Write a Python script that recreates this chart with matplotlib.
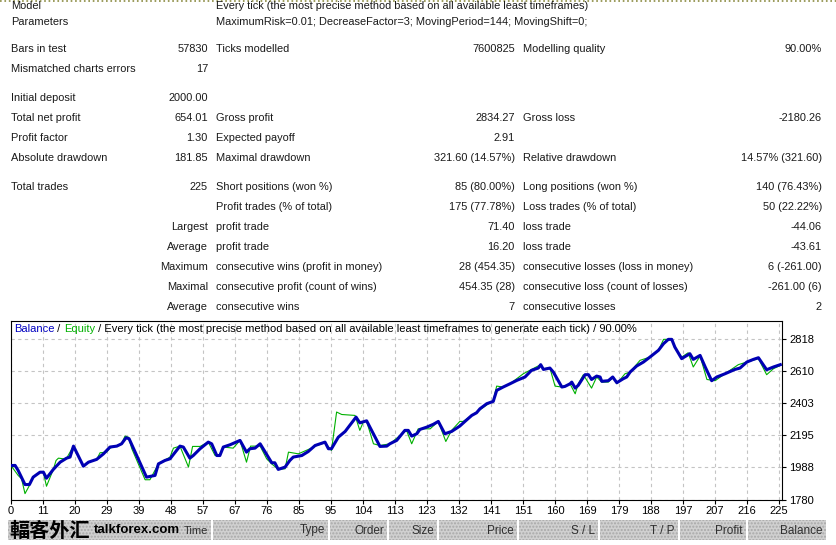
import numpy as np
import matplotlib.pyplot as plt
from matplotlib.offsetbox import HPacker, TextArea, AnchoredOffsetbox
from matplotlib.patches import Rectangle
from matplotlib.lines import Line2D

W, H = 837, 545
plt.rcParams['font.family'] = ['Liberation Sans', 'DejaVu Sans']
plt.rcParams['font.size'] = 7.9

# --- report text ---
model = "Every tick (the most precise method based on all available least timeframes)"
params = "MaximumRisk=0.01; DecreaseFactor=3; MovingPeriod=144; MovingShift=0;"

# (y, label1, value1, label2, value2, label3, value3)
rows = [
    (49, "Bars in test", "57830", "Ticks modelled", "7600825", "Modelling quality", "90.00%"),
    (69, "Mismatched charts errors", "17", "", "", "", ""),
    (98, "Initial deposit", "2000.00", "", "", "", ""),
    (118, "Total net profit", "654.01", "Gross profit", "2834.27", "Gross loss", "-2180.26"),
    (138, "Profit factor", "1.30", "Expected payoff", "2.91", "", ""),
    (158, "Absolute drawdown", "181.85", "Maximal drawdown", "321.60 (14.57%)",
     "Relative drawdown", "14.57% (321.60)"),
    (187, "Total trades", "225", "Short positions (won %)", "85 (80.00%)",
     "Long positions (won %)", "140 (76.43%)"),
    (207, "", "", "Profit trades (% of total)", "175 (77.78%)",
     "Loss trades (% of total)", "50 (22.22%)"),
    (227, "", "Largest", "profit trade", "71.40", "loss trade", "-44.06"),
    (247, "", "Average", "profit trade", "16.20", "loss trade", "-43.61"),
    (267, "", "Maximum", "consecutive wins (profit in money)", "28 (454.35)",
     "consecutive losses (loss in money)", "6 (-261.00)"),
    (287, "", "Maximal", "consecutive profit (count of wins)", "454.35 (28)",
     "consecutive loss (count of losses)", "-261.00 (6)"),
    (307, "", "Average", "consecutive wins", "7", "consecutive losses", "2"),
]

# --- chart data (trade number, account value) ---
bal_t = [0, 1.2, 2.1, 4.1, 5.4, 6.5, 8.5, 9.5, 10.4, 12.4, 14.4, 16.3, 17.3, 18.3,
         21.2, 22.7, 25.1, 27.1, 29.0, 31.0, 32.4, 33.7, 34.6, 39.7, 42.2, 43.2,
         45.1, 46.6, 49.5, 50.5, 52.4, 53.4, 55.4, 57.8, 58.8, 60.3, 61.2, 62.2,
         64.2, 67.1, 69.0, 70.0, 71.5, 73.0, 76.4, 77.3, 78.3, 80.3, 81.7, 82.7,
         85.2, 87.1, 89.1, 92.0, 93.0, 93.9, 95.9, 97.9, 101.1, 102.2, 104.2,
         108.1, 110.1, 111.0, 113.0, 115.4, 116.4, 117.4, 118.9, 119.8, 121.8,
         123.7, 125.2, 127.1, 129.1, 131.5, 133.0, 135.0, 136.4, 137.4, 139.4,
         141.3, 142.3, 144.2, 146.2, 148.2, 150.6, 152.5, 154.5, 155.2, 156.0,
         157.9, 158.9, 161.4, 162.3, 163.8, 164.3, 165.3, 166.2, 168.2, 169.2,
         170.1, 171.6, 172.6, 173.1, 175.0, 176.3, 177.5, 179.4, 180.4, 181.4,
         183.3, 185.3, 187.2, 189.7, 191.2, 192.6, 193.6, 194.5, 196.5, 198.9,
         199.9, 201.9, 203.4, 205.3, 206.8, 209.2, 212.1, 213.6, 215.6, 217.5,
         219.0, 221.4, 223.4, 225.4]
bal_v = [2000, 2001, 1968, 1877, 1877, 1925, 1957, 1957, 1918, 1975, 2022, 2048, 2055, 2126,
         1996, 2022, 2040, 2076, 2120, 2126, 2141, 2180, 2174, 1925, 1936, 2011,
         2033, 2044, 2126, 2120, 2048, 2065, 2109, 2152, 2141, 2065, 2065, 2120,
         2135, 2163, 2087, 2109, 2113, 2141, 2018, 2018, 1975, 1990, 2033, 2055,
         2065, 2091, 2130, 2152, 2109, 2109, 2184, 2221, 2314, 2277, 2290,
         2124, 2126, 2141, 2163, 2228, 2228, 2191, 2206, 2234, 2249,
         2267, 2286, 2206, 2221, 2256, 2286, 2325, 2342, 2368, 2401,
         2416, 2487, 2509, 2530, 2552, 2574, 2617, 2632, 2654, 2623,
         2632, 2606, 2509, 2513, 2530, 2541, 2502, 2520, 2589, 2589,
         2558, 2580, 2574, 2546, 2550, 2574, 2537, 2563, 2574, 2606,
         2645, 2671, 2703, 2747, 2790, 2818, 2818, 2768, 2693, 2725,
         2688, 2714, 2639, 2550, 2574, 2595, 2623, 2632, 2671, 2688,
         2699, 2621, 2639, 2654]

eq_t = [0, 2.1, 3.1, 4.1, 5.4, 6.5, 8.5, 9.5, 10.4, 12.4, 13.2, 13.9, 15.3, 16.3, 18.3,
        21.2, 22.7, 25.1, 26.1, 28.0, 29.0, 32.4, 33.4, 34.4, 35.4, 39.3, 40.7,
        43.2, 46.6, 47.6, 49.5, 52.0, 53.2, 55.4, 57.8, 59.8, 61.2, 62.2, 65.1,
        67.1, 69.0, 70.2, 73.0, 74.9, 76.4, 78.3, 80.3, 81.3, 84.2, 87.6, 89.1,
        92.0, 93.9, 95.4, 96.9, 100.8, 102.2, 103.2, 104.2, 106.2, 108.1, 111.0,
        114.0, 115.9, 117.4, 119.3, 122.8, 125.2, 127.4, 129.1, 131.5, 132.5,
        135.0, 141.3, 142.3, 144.2, 146.2, 150.1, 155.2, 156.0, 157.9, 159.4,
        161.4, 163.8, 165.3, 166.2, 167.7, 170.1, 171.6, 173.1, 175.0, 176.5,
        177.5, 179.9, 181.4, 184.3, 187.2, 189.7, 191.2, 193.6, 195.0, 196.5,
        198.4, 199.9, 201.9, 203.9, 206.3, 209.2, 213.1, 215.6, 219.0, 221.4,
        223.4, 225.4]
eq_v = [2000, 1936, 1914, 1818, 1871, 1925, 1957, 1953, 1866, 1975, 2033, 2048, 2044, 2048, 2126,
        1996, 2022, 2040, 2083, 2087, 2113, 2141, 2191, 2184, 2109, 1908, 1908,
        2011, 2055, 2113, 2126, 1990, 2124, 2124, 2152, 2065, 2065, 2120, 2113,
        2163, 2022, 2126, 2126, 2044, 2011, 1975, 1979, 2087, 2076, 2109, 2126,
        2148, 2098, 2347, 2331, 2325, 2228, 2282, 2286, 2141, 2130, 2141,
        2195, 2228, 2141, 2238, 2238, 2286, 2156, 2228, 2286, 2286,
        2325, 2422, 2515, 2509, 2530, 2595, 2654, 2628, 2632, 2515,
        2509, 2530, 2465, 2530, 2589, 2502, 2574, 2541, 2541, 2574,
        2530, 2595, 2606, 2682, 2703, 2747, 2818, 2818, 2747, 2703,
        2731, 2639, 2710, 2558, 2550, 2595, 2654, 2671, 2693, 2589,
        2628, 2649]

xtick_labels = ["0", "11", "20", "29", "39", "48", "57", "67", "76", "85", "95", "104",
                "113", "123", "132", "141", "151", "160", "169", "179", "188", "197",
                "207", "216", "225"]
ytick_vals = [1780, 1988, 2195, 2403, 2610, 2818]

header_cols = ["Time", "Type", "Order", "Size", "Price", "S / L", "T / P", "Profit", "Balance"]


def fx(x):
    return x / W


def fy(y):
    return 1 - y / H


fig = plt.figure(figsize=(W / 100, H / 100), dpi=100)
fig.patch.set_facecolor('white')
txt = '#1a1a1a'

# top dotted border
fig.add_artist(Line2D([0, 1], [fy(0.5)] * 2, transform=fig.transFigure,
                      color='#8a8a40', linestyle=':', lw=1.2))

fig.text(fx(11), fy(6), "Model", va='center', color=txt)
fig.text(fx(216), fy(6), model, va='center', color=txt)
fig.text(fx(11), fy(22), "Parameters", va='center', color=txt)
fig.text(fx(216), fy(22), params, va='center', color=txt)

for y, l1, v1, l2, v2, l3, v3 in rows:
    fig.text(fx(11), fy(y), l1, va='center', color=txt)
    fig.text(fx(208), fy(y), v1, va='center', ha='right', color=txt)
    fig.text(fx(216), fy(y), l2, va='center', color=txt)
    fig.text(fx(515), fy(y), v2, va='center', ha='right', color=txt)
    fig.text(fx(523), fy(y), l3, va='center', color=txt)
    fig.text(fx(822), fy(y), v3, va='center', ha='right', color=txt)

# --- balance / equity chart ---
ax = fig.add_axes([fx(11), fy(499.5), 771 / W, 178.5 / H])
ax.plot(eq_t, eq_v, color='#00b000', lw=0.8, zorder=3)
ax.plot(bal_t, bal_v, color='#0000b4', lw=2.2, zorder=4)

xt = np.arange(len(xtick_labels)) * 225 / 24
ax.set_xticks(xt)
ax.set_xticklabels(xtick_labels)
ax.set_xlim(0, 225.9)
ax.set_yticks(ytick_vals)
ax.set_yticklabels([str(v) for v in ytick_vals])
ax.set_ylim(1780, 2937)
ax.yaxis.tick_right()
ax.tick_params(axis='both', length=3, width=0.8, direction='out', pad=2,
               labelsize=8, colors='black')
ax.grid(True, color='#c4c4c4', linestyle=(0, (3, 3)), lw=0.8)
ax.set_axisbelow(True)
for s in ax.spines.values():
    s.set_color('black')
    s.set_linewidth(0.8)

title = HPacker(children=[
    TextArea("Balance", textprops=dict(color='#0000c0', size=8)),
    TextArea(" / ", textprops=dict(color='black', size=8)),
    TextArea("Equity", textprops=dict(color='#00b000', size=8)),
    TextArea(" / Every tick (the most precise method based on all available least "
             "timeframes to generate each tick) / 90.00%",
             textprops=dict(color='black', size=8)),
], pad=0, sep=0)
fig.add_artist(AnchoredOffsetbox(loc='upper left', child=title, frameon=False,
                                 bbox_to_anchor=(fx(14), fy(324)),
                                 bbox_transform=fig.transFigure, borderpad=0, pad=0))

# --- trade list header ---
cells = [(8, 211), (213, 328), (330, 387), (389, 437), (439, 517),
         (519, 598), (600, 678), (680, 746), (748, 826)]
for (x0, x1), name in zip(cells, header_cols):
    fig.add_artist(Rectangle((fx(x0), fy(540)), (x1 - x0) / W, 20 / H,
                             transform=fig.transFigure, facecolor='#d0d0d0',
                             edgecolor='#a8a8a8', hatch='.....', lw=0))
    fig.text(fx(x1 - 3), fy(530.5), name, ha='right', va='center',
             color='#303030', size=8.5 if name != "Time" else 8)

# watermark
fig.text(fx(9), fy(530), "輻客外汇", va='center', size=14.5, weight='bold',
         family=['Noto Sans CJK TC', 'DejaVu Sans'], color='black')
fig.text(fx(94), fy(530), "talkforex.com", va='center', size=9.5, weight='bold',
         color='black')

fig.savefig("out.png", dpi=100)
